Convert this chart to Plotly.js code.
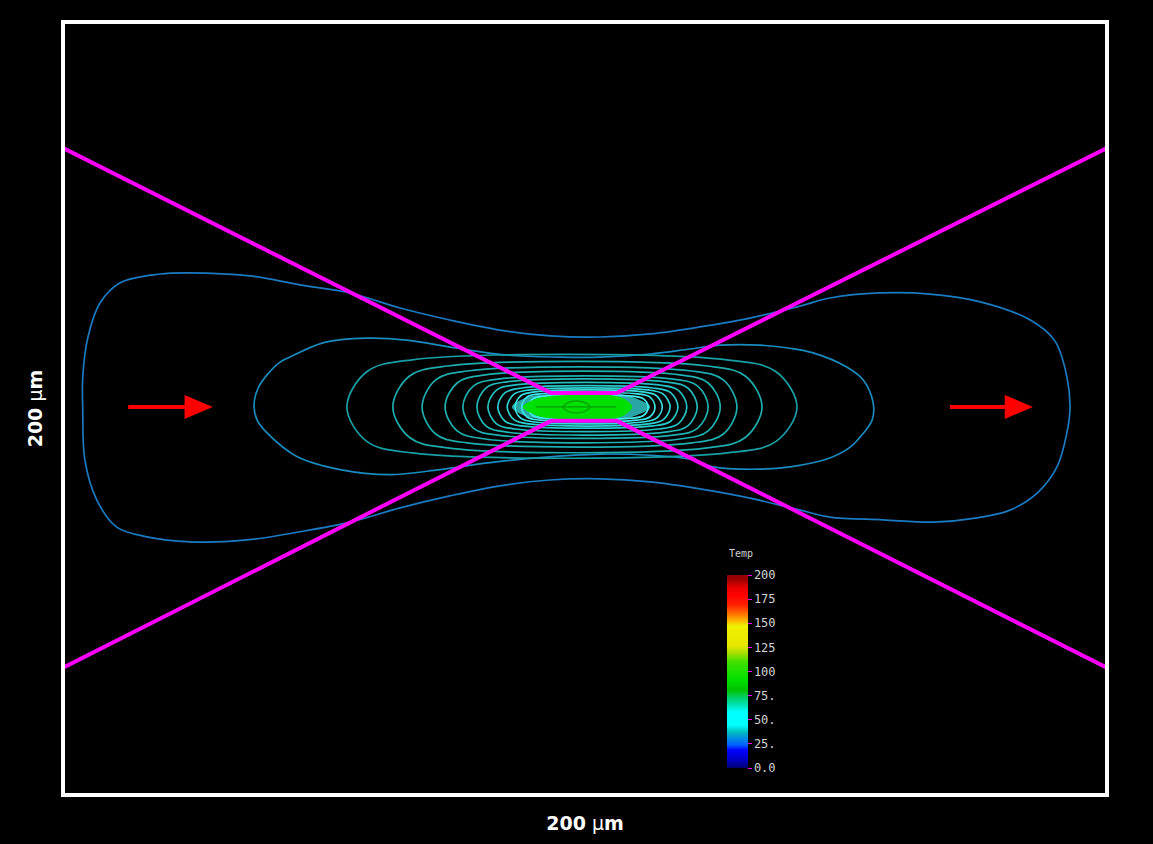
<!DOCTYPE html>
<html>
<head>
<meta charset="utf-8">
<script src="https://cdn.plot.ly/plotly-3.0.1.min.js"></script>
<style>
html,body{margin:0;padding:0;background:#000;}
#chart{width:1153px;height:844px;}
</style>
</head>
<body>
<div id="chart"></div>
<script>
// All positions in micrometres over a 200 µm x 200 µm field.
// Contour lines
const outerX = [7.1, 10.9, 18.6, 24.3, 35.8, 45.4, 55.0, 64.6, 74.1, 83.7, 93.3, 102.9, 112.5, 122.0, 131.6, 141.2, 146.9, 156.5, 166.1, 175.7, 185.3, 190.0, 192.3, 192.9, 192.3, 190.4, 186.6, 181.4, 175.1, 166.7, 157.1, 146.9, 141.2, 131.6, 122.0, 112.5, 102.9, 93.3, 83.7, 74.1, 64.6, 55.0, 45.4, 35.3, 24.3, 16.1, 10.3, 6.5, 4.2, 3.8, 3.8, 4.8, 7.1];
const outerY = [127.3, 132.5, 134.8, 135.1, 134.3, 132.0, 129.9, 126.0, 122.9, 120.3, 118.8, 118.5, 119.3, 121.1, 123.4, 126.5, 128.6, 129.9, 129.6, 127.6, 122.9, 117.5, 108.2, 100.4, 93.7, 84.9, 78.1, 73.7, 71.7, 70.6, 71.2, 71.9, 73.7, 76.8, 79.2, 81.0, 81.8, 81.5, 80.0, 77.4, 74.3, 70.6, 68.1, 66.0, 65.5, 66.8, 69.3, 76.3, 86.7, 99.6, 108.2, 118.5, 127.3];

const secondX = [36.6, 37.4, 39.1, 41.6, 43.5, 49.8, 58.2, 65.9, 75.5, 85.1, 95.2, 102.9, 112.5, 120.1, 125.9, 133.5, 139.3, 143.7, 150.2, 153.3, 155.2, 155.0, 152.7, 150.8, 146.9, 139.3, 133.5, 124.5, 120.1, 112.5, 102.9, 91.4, 81.8, 72.2, 62.6, 53.1, 44.8, 39.1, 37.2, 36.6];
const secondY = [100.9, 105.3, 108.7, 112.0, 113.3, 117.0, 118.2, 117.7, 115.6, 113.8, 113.3, 113.3, 114.1, 115.4, 116.4, 116.4, 115.6, 114.4, 110.7, 107.4, 101.4, 97.0, 92.6, 90.0, 87.2, 84.9, 84.3, 84.9, 86.9, 87.9, 88.2, 87.3, 86.0, 84.2, 82.9, 84.2, 87.6, 93.7, 97.0, 100.9];

const contour3X = [54.4, 58.2, 66.9, 127.2, 136.6, 140.6, 136.6, 127.2, 66.9, 58.2, 54.4];
const contour3Y = [100.4, 109.5, 112.6, 112.6, 109.5, 100.4, 91.5, 88.5, 88.5, 91.5, 100.4];
const contour4X = [63.2, 66.4, 73.7, 123.4, 130.7, 133.9, 130.7, 123.4, 73.7, 66.4, 63.2];
const contour4Y = [100.4, 108.4, 111.0, 111.0, 108.4, 100.4, 92.5, 89.8, 89.8, 92.5, 100.4];
const contour5X = [68.8, 71.4, 77.4, 120.5, 126.5, 129.1, 126.5, 120.5, 77.4, 71.4, 68.8];
const contour5Y = [100.4, 107.4, 109.7, 109.7, 107.4, 100.4, 93.4, 91.1, 91.1, 93.4, 100.4];
const contour6X = [73.2, 75.5, 80.9, 118.2, 123.6, 125.9, 123.6, 118.2, 80.9, 75.5, 73.2];
const contour6Y = [100.4, 106.6, 108.7, 108.7, 106.6, 100.4, 94.2, 92.1, 92.1, 94.2, 100.4];
const contour7X = [76.6, 78.6, 83.3, 116.9, 121.6, 123.6, 121.6, 116.9, 83.3, 78.6, 76.6];
const contour7Y = [100.4, 105.8, 107.6, 107.6, 105.8, 100.4, 94.9, 93.1, 93.1, 94.9, 100.4];
const contour8X = [79.3, 81.0, 85.0, 115.4, 119.7, 121.5, 119.7, 115.4, 85.0, 81.0, 79.3];
const contour8Y = [100.4, 105.3, 106.9, 106.9, 105.3, 100.4, 95.5, 93.9, 93.9, 95.5, 100.4];
const contour9X = [81.4, 83.0, 86.6, 114.1, 117.9, 119.5, 117.9, 114.1, 86.6, 83.0, 81.4];
const contour9Y = [100.4, 104.7, 106.1, 106.1, 104.7, 100.4, 96.1, 94.7, 94.7, 96.1, 100.4];
const contour10X = [83.3, 84.7, 87.9, 113.0, 116.4, 117.8, 116.4, 113.0, 87.9, 84.7, 83.3];
const contour10Y = [100.4, 104.1, 105.3, 105.3, 104.1, 100.4, 96.7, 95.5, 95.5, 96.7, 100.4];
const contour11X = [85.1, 86.4, 89.3, 112.1, 115.0, 116.3, 115.0, 112.1, 89.3, 86.4, 85.1];
const contour11Y = [100.4, 103.7, 104.8, 104.8, 103.7, 100.4, 97.1, 96.0, 96.0, 97.1, 100.4];
const contour12X = [86.6, 87.7, 90.4, 111.0, 113.7, 114.8, 113.7, 111.0, 90.4, 87.7, 86.6];
const contour12Y = [100.4, 103.3, 104.3, 104.3, 103.3, 100.4, 97.5, 96.5, 96.5, 97.5, 100.4];
const contour13X = [87.9, 88.9, 91.3, 110.0, 112.4, 113.4, 112.4, 110.0, 91.3, 88.9, 87.9];
const contour13Y = [100.4, 103.0, 103.8, 103.8, 103.0, 100.4, 97.8, 97.0, 97.0, 97.8, 100.4];
const contour14X = [89.1, 90.0, 92.2, 109.0, 111.2, 112.1, 111.2, 109.0, 92.2, 90.0, 89.1];
const contour14Y = [100.4, 102.5, 103.2, 103.2, 102.5, 100.4, 98.2, 97.5, 97.5, 98.2, 100.4];

// Hot zone in the beam waist
const glowX = [86.0, 88.5, 93.3, 106.1, 109.6, 112.5, 109.6, 106.1, 93.3, 88.5, 86.0];
const glowY = [100.4, 102.7, 103.8, 103.8, 102.7, 100.4, 98.1, 97.0, 97.0, 98.1, 100.4];
const hotX = [88.1, 90.4, 93.3, 106.1, 108.2, 109.0, 108.2, 106.1, 93.3, 90.4, 88.1];
const hotY = [100.4, 102.4, 103.2, 103.2, 101.9, 100.4, 98.9, 97.5, 97.5, 98.4, 100.4];
const coreX = [95.8, 97.1, 99.6, 101.0, 99.6, 97.1, 95.8];
const coreY = [100.4, 101.7, 101.7, 100.4, 99.1, 99.1, 100.4];
const coreLineX = [90.6, 105.9];
const coreLineY = [100.4, 100.4];

// Beam envelope (magenta)
const beamX = [0, 93.5, 106.1, 200];
const beamTop = [167.4, 104.0, 104.0, 167.4];
const beamBottom = [32.9, 96.8, 96.8, 32.9];

// Flow arrows: [tail x, tip x, y]
const arrowLeft = [12.5, 28.7, 100.4];
const arrowRight = [169.9, 185.8, 100.4];

// Colour bar
const colorbarTitle = 'Temp';
const tempRange = [0, 200];
const tempTicks = [0, 25, 50, 75, 100, 125, 150, 175, 200];
const tempTickText = ['0.0', '25.', '50.', '75.', '100', '125', '150', '175', '200'];

const colorscale = [
  [0.0, '#000070'], [0.04, '#0000c0'], [0.093, '#0000ff'], [0.119, '#0060ff'],
  [0.155, '#0090e0'], [0.187, '#00c0c0'], [0.223, '#00ffff'], [0.29, '#00ffff'],
  [0.33, '#00e0b0'], [0.368, '#00d060'], [0.404, '#00c000'], [0.456, '#00e000'],
  [0.549, '#40e000'], [0.601, '#b0e000'], [0.637, '#e8e800'], [0.736, '#f0f000'],
  [0.767, '#ffb000'], [0.808, '#ff6000'], [0.845, '#ff2000'], [0.896, '#ff0000'],
  [0.943, '#e00000'], [0.974, '#a00000'], [1.0, '#900000']
];

const contourSets = [
  [outerX, outerY, '#1b7ac2'],
  [secondX, secondY, '#1a8bbf'],
  [contour3X, contour3Y, '#1a9ea6'],
  [contour4X, contour4Y, '#1eabad'],
  [contour5X, contour5Y, '#1eabad'],
  [contour6X, contour6Y, '#1fb0b0'],
  [contour7X, contour7Y, '#1fb0b0'],
  [contour8X, contour8Y, '#22b8b8'],
  [contour9X, contour9Y, '#25c0c0'],
  [contour10X, contour10Y, '#28c8c8'],
  [contour11X, contour11Y, '#2ed2d2'],
  [contour12X, contour12Y, '#38dcdc'],
  [contour13X, contour13Y, '#40e4e4'],
  [contour14X, contour14Y, '#48ecec']
];

const traces = [];
contourSets.forEach(function (c) {
  traces.push({
    type: 'scatter', mode: 'lines', x: c[0], y: c[1],
    line: {color: c[2], width: 1.7, shape: 'spline', smoothing: 1},
    hoverinfo: 'skip', showlegend: false
  });
});
traces.push({type: 'scatter', mode: 'lines', x: glowX, y: glowY, fill: 'toself',
  fillcolor: 'rgba(60,235,235,0.7)', line: {width: 0, shape: 'spline'}, hoverinfo: 'skip', showlegend: false});
traces.push({type: 'scatter', mode: 'lines', x: hotX, y: hotY, fill: 'toself',
  fillcolor: '#00e000', line: {width: 0, shape: 'spline'}, hoverinfo: 'skip', showlegend: false});
traces.push({type: 'scatter', mode: 'lines', x: coreX, y: coreY,
  line: {color: '#009a00', width: 1.2, shape: 'spline'}, hoverinfo: 'skip', showlegend: false});
traces.push({type: 'scatter', mode: 'lines', x: coreLineX, y: coreLineY,
  line: {color: '#009a00', width: 1.2}, hoverinfo: 'skip', showlegend: false});
traces.push({type: 'scatter', mode: 'lines', x: beamX, y: beamTop,
  line: {color: '#ff00ff', width: 4}, hoverinfo: 'skip', showlegend: false, cliponaxis: true});
traces.push({type: 'scatter', mode: 'lines', x: beamX, y: beamBottom,
  line: {color: '#ff00ff', width: 4}, hoverinfo: 'skip', showlegend: false, cliponaxis: true});
// colour bar carrier
traces.push({
  type: 'scatter', mode: 'markers', x: [-50, -50], y: [-50, -50],
  marker: {
    color: tempRange, cmin: tempRange[0], cmax: tempRange[1], colorscale: colorscale,
    size: 1, opacity: 0, showscale: true,
    colorbar: {
      title: {text: ''},
      tickmode: 'array', tickvals: tempTicks, ticktext: tempTickText,
      tickfont: {family: 'DejaVu Sans Mono', size: 12, color: '#d4d4d4'},
      ticks: 'outside', ticklen: 4, tickcolor: '#ff00ff', tickwidth: 1,
      thickness: 21, thicknessmode: 'pixels',
      len: 193, lenmode: 'pixels',
      x: 0.6365, xanchor: 'left', xpad: 0,
      y: 0.0325, yanchor: 'bottom', ypad: 0,
      outlinewidth: 0, borderwidth: 0, bgcolor: 'rgba(0,0,0,0)'
    }
  },
  hoverinfo: 'skip', showlegend: false
});

function arrowShapes(a) {
  const headLen = 5.4, headHalf = 3.1, y = a[2];
  const dir = a[1] > a[0] ? 1 : -1;
  const base = a[1] - dir * headLen;
  return [
    {type: 'line', xref: 'x', yref: 'y', x0: a[0], x1: base + dir * 0.5, y0: y, y1: y,
      line: {color: '#ff0000', width: 4}},
    {type: 'path', xref: 'x', yref: 'y',
      path: 'M ' + base + ',' + (y - headHalf) + ' L ' + a[1] + ',' + y + ' L ' + base + ',' + (y + headHalf) + ' Z',
      fillcolor: '#ff0000', line: {width: 0}}
  ];
}

const axisCommon = {
  showgrid: false, zeroline: false, showticklabels: false, ticks: '',
  showline: true, mirror: true, linecolor: '#ffffff', linewidth: 4,
  fixedrange: true, automargin: false
};

const layout = {
  width: 1153, height: 844,
  paper_bgcolor: '#000000', plot_bgcolor: '#000000',
  margin: {l: 65, r: 48, t: 24, b: 51},
  showlegend: false,
  xaxis: Object.assign({}, axisCommon, {
    range: [0.4, 199.6],
    title: {text: '<b>200</b> μ<b>m</b>', standoff: 22,
      font: {family: 'DejaVu Sans', size: 19, color: '#ffffff'}}
  }),
  yaxis: Object.assign({}, axisCommon, {
    range: [0.5, 199.5],
    title: {text: '<b>200</b> μ<b>m</b>', standoff: 14,
      font: {family: 'DejaVu Sans', size: 19, color: '#ffffff'}}
  }),
  shapes: arrowShapes(arrowLeft).concat(arrowShapes(arrowRight)),
  annotations: [{
    text: colorbarTitle, xref: 'paper', yref: 'paper', x: 0.6365, y: 0.312,
    xanchor: 'left', yanchor: 'middle', showarrow: false,
    font: {family: 'DejaVu Sans Mono', size: 10, color: '#cfcfcf'}
  }]
};

Plotly.newPlot('chart', traces, layout, {displayModeBar: false, staticPlot: true});
</script>
</body>
</html>
